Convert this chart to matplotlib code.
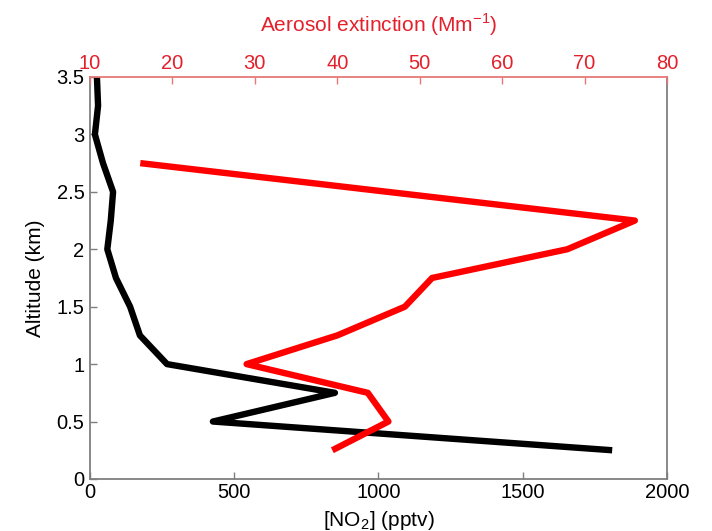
import matplotlib
matplotlib.use("Agg")
import matplotlib.pyplot as plt
import numpy as np
from matplotlib.ticker import FormatStrFormatter

plt.rcParams["font.family"] = ["Liberation Sans", "DejaVu Sans"]
plt.rcParams["mathtext.fontset"] = "custom"
plt.rcParams["mathtext.rm"] = "Liberation Sans"

# altitude levels (km)
alt_no2 = [0.25, 0.5, 0.75, 1.0, 1.25, 1.5, 1.75, 2.0, 2.25, 2.5, 2.75, 3.0, 3.25, 3.5]
no2 = [1810, 426, 849, 267, 173, 139, 90, 60, 72, 80, 45, 17, 28, 24]

alt_ext = [0.25, 0.5, 0.75, 1.0, 1.25, 1.5, 1.75, 2.0, 2.25, 2.75]
extinction = [39.4, 46.2, 43.7, 29.0, 40.0, 48.2, 51.5, 67.9, 76.1, 16.1]

no2_ticks = [0, 500, 1000, 1500, 2000]
ext_ticks = [10, 20, 30, 40, 50, 60, 70, 80]
alt_ticks = [0, 0.5, 1, 1.5, 2, 2.5, 3, 3.5]

red_text = "#e3202b"
axis_grey = "#7f7f7f"

fig = plt.figure(figsize=(7.12, 5.31), dpi=100)
ax = fig.add_axes([0.1264, 0.098, 0.8104, 0.757])

ax.plot(no2, alt_no2, color="black", lw=4.6,
        solid_joinstyle="round", solid_capstyle="butt")
ax.set_xlim(0, 2000)
ax.set_ylim(0, 3.5)
ax.set_xticks(no2_ticks)
ax.set_yticks(alt_ticks)
ax.yaxis.set_major_formatter(FormatStrFormatter("%g"))
ax.tick_params(direction="in", length=5, width=1, color=axis_grey,
               labelsize=14.5, right=False, top=False)
ax.tick_params(axis="x", pad=3)
ax.tick_params(axis="y", pad=4)
for side in ["left", "bottom", "right"]:
    ax.spines[side].set_color(axis_grey)
    ax.spines[side].set_linewidth(1.3)
ax.spines["top"].set_visible(False)
ax.set_xlabel("[NO$_2$] (pptv)", fontsize=15, labelpad=5)
ax.set_ylabel("Altitude (km)", fontsize=15, labelpad=8)

ax2 = ax.twiny()
ax2.plot(extinction, alt_ext, color="#ff0000", lw=4.6,
         solid_joinstyle="round", solid_capstyle="butt")
ax2.set_xlim(10, 80)
ax2.set_xticks(ext_ticks)
ax2.tick_params(direction="in", length=5, width=1, color="#e87878",
                labelcolor=red_text, labelsize=14.5, pad=3)
ax2.spines["top"].set_color("#e87878")
ax2.spines["top"].set_linewidth(1.3)
for side in ["left", "bottom", "right"]:
    ax2.spines[side].set_visible(False)
ax2.set_xlabel("Aerosol extinction (Mm$^{-1}$)", fontsize=15,
               color=red_text, labelpad=16)

fig.savefig("out.png", dpi=100)
